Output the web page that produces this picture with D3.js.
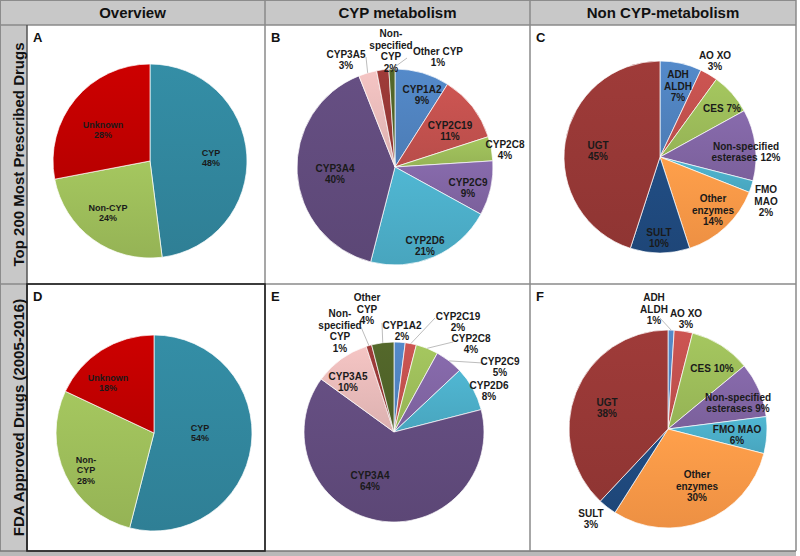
<!DOCTYPE html>
<html><head><meta charset="utf-8">
<script src="https://cdn.jsdelivr.net/npm/d3@7"></script>
<style>body{margin:0;background:#fff}svg{display:block}</style>
</head><body><svg id="c" width="800" height="556"></svg>
<script>
// ---------- DATA ----------
const columnTitles = ["Overview", "CYP metabolism", "Non CYP-metabolism"];
const rowTitles = ["Top 200 Most Prescribed Drugs", "FDA Approved Drugs (2005-2016)"];
const panelLetters = ["A", "B", "C", "D", "E", "F"];

const overviewCategories = ["CYP", "Non-CYP", "Unknown"];
const overviewTop200 = [48, 24, 28];
const overviewFDA = [54, 28, 18];

const cypCategories = ["CYP1A2", "CYP2C19", "CYP2C8", "CYP2C9", "CYP2D6", "CYP3A4", "CYP3A5", "Non-specified CYP", "Other CYP"];
const cypTop200 = [9, 11, 4, 9, 21, 40, 3, 2, 1];
const cypFDA = [2, 2, 4, 5, 8, 64, 10, 1, 4];

const nonCypCategories = ["ADH ALDH", "AO XO", "CES", "Non-specified esterases", "FMO MAO", "Other enzymes", "SULT", "UGT"];
const nonCypTop200 = [7, 3, 7, 12, 2, 14, 10, 45];
const nonCypFDA = [1, 3, 10, 9, 6, 30, 3, 38];

// ---------- STYLE / LAYOUT ----------
const overviewColors = ["#31859c", "#9bbb59", "#c00000"];
const cypColors = ["#4f81bd", "#c0504d", "#9bbb59", "#8064a2", "#4bacc6", "#604a7b", "#e6b9b8", "#953735", "#4f6228"];
const nonCypColors = ["#4f81bd", "#c0504d", "#9bbb59", "#8064a2", "#4bacc6", "#f79646", "#1f497d", "#953735"];

const colX = [27, 265, 530, 796];
const rowY = [25, 284, 551];

const panels = [
  { cats: overviewCategories, vals: overviewTop200, colors: overviewColors, col: 0, row: 0,
    cx: 150, cy: 161, r: 97, font: 9,
    labels: [["CYP|{v}", 61, -3], ["Non-CYP|{v}", -42, 52], ["Unknown|{v}", -47, -31]], leaders: [] },
  { cats: cypCategories, vals: cypTop200, colors: cypColors, col: 1, row: 0,
    cx: 395, cy: 167, r: 98, font: 10,
    labels: [["CYP1A2|{v}", 27, -72], ["CYP2C19|{v}", 55, -36], ["CYP2C8|{v}", 110, -17], ["CYP2C9|{v}", 73, 21],
             ["CYP2D6|{v}", 30, 79], ["CYP3A4|{v}", -60, 7], ["CYP3A5|{v}", -49, -107],
             ["Non-|specified|CYP|{v}", -4, -116], ["Other CYP|{v}", 43, -110]],
    leaders: [[6, -29, -110], [8, 12, -109]] },
  { cats: nonCypCategories, vals: nonCypTop200, colors: nonCypColors, col: 2, row: 0,
    cx: 660, cy: 157, r: 96, font: 10,
    labels: [["ADH|ALDH|{v}", 18, -71], ["AO XO|{v}", 55, -96], ["CES {v}", 62, -49], ["Non-specified|esterases {v}", 86, -5],
             ["FMO|MAO|{v}", 106, 44], ["Other|enzymes|{v}", 53, 53], ["SULT|{v}", -1, 81], ["UGT|{v}", -62, -6]],
    leaders: [] },
  { cats: overviewCategories, vals: overviewFDA, colors: overviewColors, col: 0, row: 1,
    cx: 154, cy: 433, r: 98, font: 9,
    labels: [["CYP|{v}", 46, 0], ["Non-|CYP|{v}", -68, 37], ["Unknown|{v}", -46, -50]], leaders: [] },
  { cats: cypCategories, vals: cypFDA, colors: cypColors, col: 1, row: 1,
    cx: 394, cy: 432, r: 90, font: 10,
    labels: [["CYP1A2|{v}", 8, -101], ["CYP2C19|{v}", 64, -110], ["CYP2C8|{v}", 77, -88], ["CYP2C9|{v}", 106, -65],
             ["CYP2D6|{v}", 95, -41], ["CYP3A4|{v}", -24, 49], ["CYP3A5|{v}", -46, -50],
             ["Non-|specified|CYP|{v}", -54, -101], ["Other|CYP|{v}", -27, -123]],
    leaders: [[1, 41, -114], [2, 59, -90], [3, 89, -69], [7, -33, -105], [8, -12, -109]] },
  { cats: nonCypCategories, vals: nonCypFDA, colors: nonCypColors, col: 2, row: 1,
    cx: 668, cy: 429, r: 99, font: 10,
    labels: [["ADH|ALDH|{v}", -14, -120], ["AO XO|{v}", 18, -110], ["CES  {v}", 44, -61], ["Non-specified|esterases {v}", 70, -26],
             ["FMO MAO|{v}", 69, 6], ["Other|enzymes|{v}", 29, 57], ["SULT|{v}", -77, 90], ["UGT|{v}", -61, -21]],
    leaders: [[0, -8, -111]] }
];

// ---------- DRAW ----------
const svg = d3.select("#c");
const FONT = "'Liberation Sans', Arial, sans-serif";
const defs = svg.append("defs");
const gradId = {};
[...new Set([...overviewColors, ...cypColors, ...nonCypColors])].forEach((c, i) => {
  const id = "g" + i;
  gradId[c] = id;
  const g = defs.append("linearGradient").attr("id", id).attr("x1", 0).attr("y1", 0).attr("x2", 0).attr("y2", 1);
  g.append("stop").attr("offset", 0).attr("stop-color", d3.color(c).brighter(0.18).formatHex());
  g.append("stop").attr("offset", 1).attr("stop-color", d3.color(c).darker(0.12).formatHex());
});

svg.append("rect").attr("width", 800).attr("height", 556).attr("fill", "#fff");
// gray header and left column
svg.append("rect").attr("x", 0).attr("y", 0).attr("width", colX[3]).attr("height", rowY[0]).attr("fill", "#c8c8c8");
svg.append("rect").attr("x", 0).attr("y", rowY[0]).attr("width", colX[0]).attr("height", rowY[2] - rowY[0]).attr("fill", "#c8c8c8");
svg.append("rect").attr("x", 0).attr("y", rowY[2]).attr("width", colX[3]).attr("height", 556 - rowY[2]).attr("fill", "#b9b9b9");

const line = (x1, y1, x2, y2, c, w) => svg.append("line").attr("x1", x1).attr("y1", y1).attr("x2", x2).attr("y2", y2)
  .attr("stroke", c).attr("stroke-width", w);
line(0, 0.5, colX[3], 0.5, "#8c8c8c", 1);
line(0.5, 0, 0.5, rowY[2], "#8c8c8c", 1);
line(0, rowY[0], colX[3], rowY[0], "#8a8a8a", 1.5);
line(0, rowY[1], colX[3], rowY[1], "#8a8a8a", 1.5);
line(0, rowY[2], colX[3], rowY[2], "#777", 1.5);
line(colX[0], rowY[0], colX[0], rowY[2], "#555", 1.5);
[1, 2, 3].forEach(i => line(colX[i], 0, colX[i], rowY[2], "#8a8a8a", 1.5));
// panel D dark frame
svg.append("rect").attr("x", colX[0]).attr("y", rowY[1]).attr("width", colX[1] - colX[0]).attr("height", rowY[2] - rowY[1])
  .attr("fill", "none").attr("stroke", "#222").attr("stroke-width", 1.6);

// column titles
columnTitles.forEach((t, i) => {
  const x0 = i === 0 ? 0 : colX[i];
  svg.append("text").attr("x", (x0 + colX[i + 1]) / 2).attr("y", rowY[0] / 2).attr("dy", "0.36em")
    .attr("text-anchor", "middle").attr("font-family", FONT).attr("font-weight", "bold").attr("font-size", 15)
    .attr("fill", "#111").text(t);
});
// row titles
rowTitles.forEach((t, i) => {
  const cy = (rowY[i] + rowY[i + 1]) / 2;
  svg.append("text").attr("transform", `translate(19,${cy}) rotate(-90)`).attr("dy", "0.36em")
    .attr("text-anchor", "middle").attr("font-family", FONT).attr("font-weight", "bold").attr("font-size", 15)
    .attr("fill", "#111").text(t);
});

const pie = d3.pie().sort(null).value(d => d);

panels.forEach((p, k) => {
  const left = colX[p.col], top = rowY[p.row];
  svg.append("text").attr("x", left + 6).attr("y", top + 17).attr("font-family", FONT).attr("font-weight", "bold")
    .attr("font-size", 13).attr("fill", "#111").text(panelLetters[k]);

  const arcs = pie(p.vals);
  const arc = d3.arc().innerRadius(0).outerRadius(p.r);
  const g = svg.append("g").attr("transform", `translate(${p.cx},${p.cy})`);
  g.selectAll("path").data(arcs).join("path")
    .attr("d", arc)
    .attr("fill", (d, i) => `url(#${gradId[p.colors[i]]})`)
    .attr("stroke", "#fff").attr("stroke-width", 0.7);

  // leader lines
  p.leaders.forEach(([i, ex, ey]) => {
    const a = (arcs[i].startAngle + arcs[i].endAngle) / 2;
    g.append("line").attr("x1", Math.sin(a) * p.r).attr("y1", -Math.cos(a) * p.r)
      .attr("x2", ex).attr("y2", ey).attr("stroke", "#bdbdbd").attr("stroke-width", 1);
  });

  // labels
  const lh = p.font * 1.15;
  p.labels.forEach(([tpl, dx, dy], i) => {
    const lines = tpl.replace("{v}", p.vals[i] + "%").split("|");
    const t = g.append("text").attr("text-anchor", "middle").attr("font-family", FONT).attr("font-weight", "bold")
      .attr("font-size", p.font).attr("fill", "#1a1a1a");
    const y0 = dy - (lines.length - 1) * lh / 2;
    lines.forEach((s, j) => {
      t.append("tspan").attr("x", dx).attr("y", y0 + j * lh).attr("dy", "0.36em").text(s);
    });
  });
});
</script>
</body></html>
